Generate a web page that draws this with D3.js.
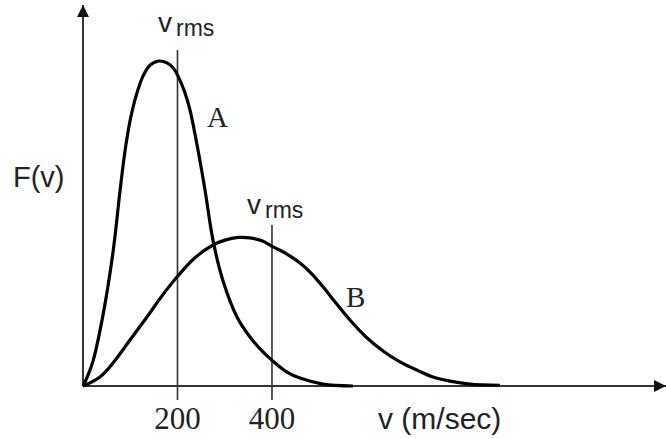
<!DOCTYPE html>
<html>
<head>
<meta charset="utf-8">
<script src="https://cdn.jsdelivr.net/npm/d3@7"></script>
<style>
  html, body { margin: 0; padding: 0; background: #fff; }
  svg { display: block; }
</style>
</head>
<body>
<svg id="chart" width="666" height="439"></svg>
<script>
// ---- data (v in m/s, F in arbitrary units) ----
const curveA_v = [0, 10.6, 21.2, 42.3, 63.5, 78.3, 88.9, 99.5, 112.2, 127.0, 141.8, 160.8, 177.8, 190.5, 201.1, 215.9, 226.5, 243.4, 258.2, 275.1, 296.3, 325.9, 353.4, 378.8, 402.1, 431.7, 459.3, 508.0, 571.4];
const curveA_F = [0, 2.9, 6.6, 18.8, 35.5, 51.7, 62.3, 70.3, 76.9, 82.2, 85.1, 86.2, 85.7, 84.4, 82.2, 77.7, 73.2, 62.6, 52.0, 38.7, 27.9, 18.3, 13.0, 9.3, 6.6, 3.7, 2.1, 0.5, 0];
const curveB_v = [0, 36.0, 63.5, 99.5, 135.4, 167.2, 198.9, 237.0, 275.1, 300.5, 328.0, 353.4, 378.8, 402.1, 431.7, 459.3, 484.7, 508.0, 535.4, 565.1, 599.0, 635.0, 670.9, 706.9, 740.7, 776.7, 819.0, 882.5];
const curveB_F = [0, 2.4, 6.1, 12.2, 18.3, 23.9, 28.9, 34.0, 37.4, 38.7, 39.4, 39.3, 38.5, 36.9, 35.0, 32.6, 29.7, 26.3, 22.0, 17.5, 13.0, 9.3, 6.4, 4.2, 2.4, 1.3, 0.5, 0.2];
const vrmsValues = [200, 400];
const vrmsTopF = [89.1, 42.7];
const tickLabels = ["200", "400"];
const curveLabels = ["A", "B"];

const svg = d3.select("#chart");
const x = d3.scaleLinear().domain([0, 1234]).range([83, 666]);
const y = d3.scaleLinear().domain([0, 100]).range([386, 9]);

// arrow markers
const defs = svg.append("defs");
defs.append("marker").attr("id", "arr").attr("viewBox", "0 0 10 10")
  .attr("refX", 10).attr("refY", 5).attr("markerWidth", 12).attr("markerHeight", 12)
  .attr("markerUnits", "userSpaceOnUse").attr("orient", "auto")
  .append("path").attr("d", "M0,0 L10,5 L0,10 Z").attr("fill", "#111");

// axes
svg.append("line").attr("x1", x(0)).attr("y1", y(0)).attr("x2", x(0)).attr("y2", 5)
  .attr("stroke", "#333").attr("stroke-width", 2).attr("marker-end", "url(#arr)");
svg.append("line").attr("x1", x(0)).attr("y1", y(0)).attr("x2", 666).attr("y2", y(0))
  .attr("stroke", "#333").attr("stroke-width", 2).attr("marker-end", "url(#arr)");

// vrms lines
vrmsValues.forEach((v, i) => {
  svg.append("line").attr("x1", x(v)).attr("x2", x(v))
    .attr("y1", y(vrmsTopF[i])).attr("y2", y(0) + 14)
    .attr("stroke", "#333").attr("stroke-width", 1.6);
});

// curves
const line = d3.line().x(d => x(d[0])).y(d => y(d[1])).curve(d3.curveCatmullRom.alpha(0.5));
const dataA = curveA_v.map((v, i) => [v, curveA_F[i]]);
const dataB = curveB_v.map((v, i) => [v, curveB_F[i]]);
[dataA, dataB].forEach(d => {
  svg.append("path").attr("d", line(d)).attr("fill", "none")
    .attr("stroke", "#000").attr("stroke-width", 3.2).attr("stroke-linejoin", "round");
});

// tick labels
vrmsValues.forEach((v, i) => {
  svg.append("text").attr("x", x(v)).attr("y", 429).attr("text-anchor", "middle")
    .attr("font-family", "Liberation Serif, serif").attr("font-size", 31)
    .attr("fill", "#222").text(tickLabels[i]);
});

// vrms labels
const vrmsLabelPos = [[158, 32], [247, 214]];
vrmsLabelPos.forEach(p => {
  const t = svg.append("text").attr("x", p[0]).attr("y", p[1])
    .attr("font-family", "Liberation Sans, Arial, sans-serif").attr("fill", "#222");
  t.append("tspan").attr("font-size", 28).text("v");
  t.append("tspan").attr("font-size", 23).attr("dx", 4).attr("dy", 4).text("rms");
});

// curve labels
const curveLabelPos = [[207, 127], [346, 307]];
curveLabels.forEach((c, i) => {
  svg.append("text").attr("x", curveLabelPos[i][0]).attr("y", curveLabelPos[i][1])
    .attr("font-family", "Liberation Serif, serif").attr("font-size", 29)
    .attr("fill", "#222").text(c);
});

// axis titles
svg.append("text").attr("x", 13).attr("y", 187)
  .attr("font-family", "Liberation Sans, Arial, sans-serif").attr("font-size", 29)
  .attr("fill", "#222").text("F(v)");
svg.append("text").attr("x", 378).attr("y", 429)
  .attr("font-family", "Liberation Sans, Arial, sans-serif").attr("font-size", 30)
  .attr("fill", "#222").text("v (m/sec)");
</script>
</body>
</html>
